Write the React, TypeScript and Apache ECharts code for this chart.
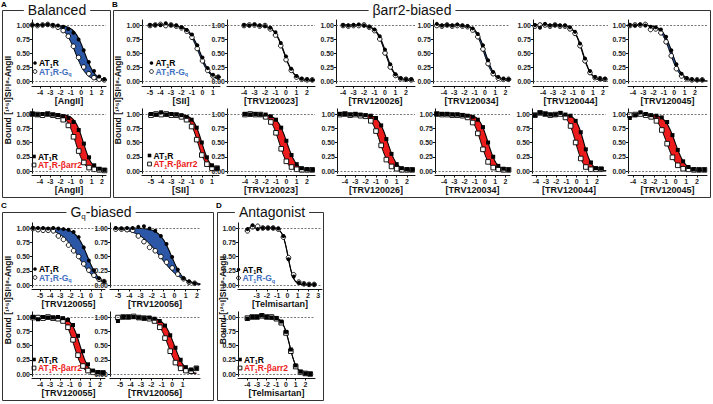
import React, { useEffect, useRef } from "react";
import * as echarts from "echarts";

// ---------- DATA (log concentration, fraction bound) ----------
const Y_TICKS = [0, 0.25, 0.5, 0.75, 1];
const TICKS_M4_2 = [-4, -3, -2, -1, 0, 1, 2];
const TICKS_M5_1 = [-5, -4, -3, -2, -1, 0, 1];
const TICKS_M5_2 = [-5, -4, -3, -2, -1, 0, 1, 2];
const TICKS_M3_3 = [-3, -2, -1, 0, 1, 2, 3];

// A: AngII
const A1_x = [-4.75, -4.25, -3.75, -3.25, -2.75, -2.25, -1.75, -1.25, -0.75, -0.25, 0.25, 0.75, 1.25, 1.75, 2.25];
const A1_at1r = [1.0, 1.0, 1.0, 1.01, 1.0, 0.99, 0.97, 0.93, 0.86, 0.74, 0.55, 0.34, 0.18, 0.08, 0.03];
const A1_gq = [1.0, 0.99, 1.0, 1.01, 0.99, 0.96, 0.9, 0.8, 0.62, 0.42, 0.25, 0.13, 0.06, 0.03, 0.02];
const A1_fit_at1r = [0.35, 0.85];
const A1_fit_gq = [-0.55, 0.8];

const A2_x = [-4.75, -4.25, -3.75, -3.25, -2.75, -2.25, -1.75, -1.25, -0.75, -0.25, 0.25, 0.75, 1.25, 1.75, 2.25];
const A2_at1r = [1.0, 0.99, 1.0, 1.0, 0.99, 0.98, 0.96, 0.93, 0.86, 0.72, 0.48, 0.24, 0.1, 0.04, 0.02];
const A2_barr = [1.0, 0.99, 0.98, 1.0, 0.98, 0.96, 0.9, 0.8, 0.6, 0.35, 0.15, 0.06, 0.03, 0.02, 0.01];
const A2_fit_at1r = [0.2, 1.0];
const A2_fit_barr = [-0.55, 1.0];

// B: SII
const B1a_x = [-5, -4.5, -4, -3.5, -3, -2.5, -2, -1.5, -1, -0.5, 0, 0.5, 1, 1.5];
const B1a_at1r = [1.0, 1.0, 1.0, 1.03, 1.0, 0.99, 0.96, 0.91, 0.83, 0.64, 0.42, 0.23, 0.11, 0.07];
const B1a_gq = [0.99, 1.0, 1.01, 0.99, 1.0, 0.98, 0.95, 0.89, 0.78, 0.58, 0.36, 0.19, 0.09, 0.07];
const B1a_fit_at1r = [-0.2, 0.8];
const B1a_fit_gq = [-0.35, 0.8];

const B1b_x = [-5, -4.5, -4, -3.5, -3, -2.5, -2, -1.5, -1, -0.5, 0, 0.5, 1, 1.5];
const B1b_at1r = [1.0, 0.99, 1.03, 0.99, 1.0, 0.99, 0.98, 0.95, 0.9, 0.76, 0.5, 0.24, 0.1, 0.05];
const B1b_barr = [0.98, 1.0, 0.99, 1.0, 0.98, 0.98, 0.95, 0.9, 0.78, 0.55, 0.28, 0.12, 0.05, 0.05];
const B1b_fit_at1r = [0.0, 1.0];
const B1b_fit_barr = [-0.4, 1.0];

// B: TRV120023
const B2a_x = [-4, -3.5, -3, -2.5, -2, -1.5, -1, -0.5, 0, 0.5, 1, 1.5, 2, 2.5];
const B2a_at1r = [1.0, 0.99, 1.01, 0.99, 0.98, 0.95, 0.87, 0.68, 0.44, 0.22, 0.09, 0.04, 0.03, 0.02];
const B2a_gq = [0.99, 1.0, 1.0, 0.98, 0.99, 0.93, 0.82, 0.63, 0.38, 0.19, 0.07, 0.03, 0.02, 0.02];
const B2a_fit_at1r = [-0.15, 0.9];
const B2a_fit_gq = [-0.2, 0.9];

const B2b_x = [-4, -3.5, -3, -2.5, -2, -1.5, -1, -0.5, 0, 0.5, 1, 1.5, 2, 2.5];
const B2b_at1r = [1.0, 0.99, 1.0, 0.99, 0.99, 0.96, 0.9, 0.76, 0.53, 0.28, 0.12, 0.05, 0.03, 0.02];
const B2b_barr = [0.99, 1.0, 0.99, 0.99, 0.95, 0.86, 0.67, 0.39, 0.17, 0.07, 0.03, 0.02, 0.02, 0.02];
const B2b_fit_at1r = [0.05, 0.9];
const B2b_fit_barr = [-0.7, 1.0];

// B: TRV120026
const B3a_x = [-4, -3.5, -3, -2.5, -2, -1.5, -1, -0.5, 0, 0.5, 1, 1.5, 2, 2.5];
const B3a_at1r = [1.0, 0.99, 1.0, 1.01, 0.99, 0.97, 0.92, 0.8, 0.56, 0.3, 0.12, 0.05, 0.03, 0.03];
const B3a_gq = [0.99, 0.98, 0.99, 0.99, 1.0, 0.96, 0.9, 0.75, 0.5, 0.25, 0.1, 0.04, 0.03, 0.02];
const B3a_fit_at1r = [0.1, 0.95];
const B3a_fit_gq = [0.02, 0.95];

const B3b_x = [-4.5, -4, -3.5, -3, -2.5, -2, -1.5, -1, -0.5, 0, 0.5, 1, 1.5, 2, 2.5];
const B3b_at1r = [1.0, 1.0, 0.99, 1.0, 0.99, 0.98, 0.97, 0.93, 0.8, 0.56, 0.3, 0.12, 0.05, 0.03, 0.02];
const B3b_barr = [0.99, 1.0, 0.98, 0.99, 0.97, 0.96, 0.88, 0.7, 0.45, 0.2, 0.08, 0.04, 0.02, 0.02, 0.02];
const B3b_fit_at1r = [0.13, 0.95];
const B3b_fit_barr = [-0.6, 0.95];

// B: TRV120034
const B4a_x = [-4.7, -4.2, -3.7, -3.2, -2.7, -2.2, -1.7, -1.2, -0.7, -0.2, 0.3, 0.8, 1.3, 1.8, 2.3];
const B4a_at1r = [1.02, 0.99, 1.0, 0.99, 1.01, 0.99, 0.98, 0.94, 0.84, 0.64, 0.37, 0.16, 0.07, 0.04, 0.03];
const B4a_gq = [0.99, 0.98, 1.0, 0.98, 0.99, 0.98, 0.97, 0.91, 0.79, 0.57, 0.31, 0.13, 0.05, 0.03, 0.03];
const B4a_fit_at1r = [0.05, 0.95];
const B4a_fit_gq = [-0.1, 0.95];

const B4b_x = [-4.7, -4.2, -3.7, -3.2, -2.7, -2.2, -1.7, -1.2, -0.7, -0.2, 0.3, 0.8, 1.3, 1.8, 2.3];
const B4b_at1r = [1.0, 1.0, 1.0, 0.99, 0.99, 0.98, 0.97, 0.95, 0.9, 0.77, 0.5, 0.25, 0.09, 0.04, 0.02];
const B4b_barr = [1.0, 0.99, 0.99, 0.98, 0.98, 0.97, 0.94, 0.85, 0.66, 0.38, 0.16, 0.06, 0.03, 0.02, 0.02];
const B4b_fit_at1r = [0.3, 1.0];
const B4b_fit_barr = [-0.4, 1.0];

// B: TRV120044
const B5a_x = [-4.8, -4.3, -3.8, -3.3, -2.8, -2.3, -1.8, -1.3, -0.8, -0.3, 0.2, 0.7, 1.2, 1.7, 2.2];
const B5a_at1r = [1.0, 0.95, 1.02, 0.99, 1.0, 0.99, 0.99, 0.96, 0.88, 0.67, 0.4, 0.18, 0.07, 0.04, 0.04];
const B5a_gq = [0.98, 1.0, 1.0, 0.98, 1.0, 0.98, 0.98, 0.93, 0.85, 0.63, 0.36, 0.15, 0.06, 0.04, 0.03];
const B5a_fit_at1r = [0.0, 1.0];
const B5a_fit_gq = [-0.05, 1.0];

const B5b_x = [-4.1, -3.6, -3.1, -2.6, -2.1, -1.6, -1.1, -0.6, -0.1, 0.4, 0.9, 1.4, 1.9, 2.4, 2.9];
const B5b_at1r = [0.98, 1.02, 1.0, 0.99, 0.99, 1.02, 0.99, 0.97, 0.88, 0.68, 0.38, 0.15, 0.05, 0.04, 0.04];
const B5b_barr = [0.98, 1.02, 1.0, 0.98, 0.99, 1.0, 0.94, 0.79, 0.5, 0.22, 0.07, 0.03, 0.03, 0.03, 0.04];
const B5b_fit_at1r = [0.7, 1.1];
const B5b_fit_barr = [-0.1, 1.1];

// B: TRV120045
const B6a_x = [-4.3, -3.8, -3.3, -2.8, -2.3, -1.8, -1.3, -0.8, -0.3, 0.2, 0.7, 1.2, 1.7, 2.2, 2.7, 3.2];
const B6a_at1r = [1.0, 0.99, 1.01, 0.99, 0.97, 0.96, 0.92, 0.79, 0.55, 0.3, 0.13, 0.05, 0.03, 0.02, 0.02, 0.02];
const B6a_gq = [0.99, 1.0, 1.0, 1.01, 0.92, 0.93, 0.86, 0.7, 0.45, 0.22, 0.09, 0.04, 0.02, 0.02, 0.02, 0.02];
const B6a_fit_at1r = [-0.2, 0.9];
const B6a_fit_gq = [-0.4, 0.9];

const B6b_x = [-4.3, -3.8, -3.3, -2.8, -2.3, -1.8, -1.3, -0.8, -0.3, 0.2, 0.7, 1.2, 1.7, 2.2, 2.7];
const B6b_at1r = [0.93, 0.98, 1.03, 1.0, 0.98, 0.97, 0.94, 0.86, 0.63, 0.37, 0.17, 0.07, 0.03, 0.02, 0.02];
const B6b_barr = [0.98, 0.99, 1.0, 0.98, 0.95, 0.88, 0.72, 0.48, 0.24, 0.1, 0.04, 0.03, 0.02, 0.02, 0.02];
const B6b_fit_at1r = [-0.05, 0.9];
const B6b_fit_barr = [-0.85, 0.9];

// C: TRV120055 / TRV120056
const C1a_x = [-5.7, -5.2, -4.7, -4.2, -3.7, -3.2, -2.7, -2.2, -1.7, -1.2, -0.7, -0.2, 0.3, 0.8, 1.3];
const C1a_at1r = [1.0, 1.0, 1.0, 0.99, 1.0, 0.99, 0.98, 0.97, 0.93, 0.84, 0.66, 0.43, 0.26, 0.12, 0.06];
const C1a_gq = [0.99, 0.97, 0.96, 0.96, 0.95, 0.86, 0.8, 0.7, 0.6, 0.5, 0.37, 0.26, 0.17, 0.1, 0.06];
const C1a_fit_at1r = [-0.33, 0.75];
const C1a_fit_gq = [-1.25, 0.5];

const C2a_x = [-5.2, -4.7, -4.2, -3.7, -3.2, -2.7, -2.2, -1.7, -1.2, -0.7, -0.2, 0.3, 0.8, 1.3, 1.8, 2.3];
const C2a_at1r = [1.0, 0.99, 1.0, 1.0, 1.02, 1.03, 0.99, 0.95, 0.86, 0.72, 0.49, 0.27, 0.12, 0.06, 0.03, 0.06];
const C2a_gq = [0.98, 0.98, 0.97, 0.96, 0.86, 0.76, 0.66, 0.6, 0.5, 0.4, 0.3, 0.19, 0.11, 0.05, 0.03, 0.08];
const C2a_fit_at1r = [-0.24, 0.8];
const C2a_fit_gq = [-1.28, 0.45];

const C1b_x = [-4.7, -4.2, -3.7, -3.2, -2.7, -2.2, -1.7, -1.2, -0.7, -0.2, 0.3, 0.8, 1.3, 1.8, 2.3];
const C1b_at1r = [1.0, 0.96, 1.0, 0.99, 0.99, 1.0, 0.98, 0.95, 0.86, 0.67, 0.4, 0.17, 0.06, 0.03, 0.02];
const C1b_barr = [0.99, 0.99, 0.98, 1.0, 0.98, 0.97, 0.93, 0.82, 0.6, 0.33, 0.14, 0.06, 0.03, 0.02, 0.02];
const C1b_fit_at1r = [0.0, 1.0];
const C1b_fit_barr = [-0.6, 1.0];

const C2b_x = [-5.2, -4.7, -4.2, -3.7, -3.2, -2.7, -2.2, -1.7, -1.2, -0.7, -0.2, 0.3, 0.8, 1.3, 1.8, 2.3];
const C2b_at1r = [0.93, 1.0, 1.0, 1.0, 0.99, 0.98, 0.99, 0.97, 0.93, 0.85, 0.68, 0.46, 0.25, 0.12, 0.08, 0.1];
const C2b_barr = [0.99, 1.0, 1.0, 1.01, 0.99, 0.98, 0.97, 0.93, 0.82, 0.63, 0.4, 0.2, 0.1, 0.06, 0.05, 0.1];
const C2b_fit_at1r = [0.2, 0.85];
const C2b_fit_barr = [-0.4, 0.85];

// D: Telmisartan
const Da_x = [-3.9, -3.4, -2.9, -2.4, -1.9, -1.4, -0.9, -0.4, 0.1, 0.6, 1.1, 1.6, 2.1, 2.6];
const Da_at1r = [0.98, 1.05, 0.98, 1.0, 1.0, 1.0, 0.99, 0.86, 0.45, 0.15, 0.04, 0.02, 0.01, 0.01];
const Da_gq = [0.95, 1.02, 1.03, 1.0, 1.0, 1.0, 0.98, 0.84, 0.48, 0.18, 0.05, 0.02, 0.01, 0.01];
const Da_fit_at1r = [0.05, 1.6];
const Da_fit_gq = [0.05, 1.6];

const Db_x = [-4, -3.5, -3, -2.5, -2, -1.5, -1, -0.5, 0, 0.5, 1, 1.5, 2, 2.5];
const Db_at1r = [0.97, 1.0, 1.0, 1.03, 1.0, 0.99, 0.98, 0.92, 0.74, 0.43, 0.15, 0.04, 0.01, 0.0];
const Db_barr = [0.98, 1.0, 1.0, 1.02, 1.0, 1.0, 0.97, 0.9, 0.72, 0.4, 0.13, 0.03, 0.01, 0.0];
const Db_fit_at1r = [0.38, 1.2];
const Db_fit_barr = [0.38, 1.2];

// ---------- LAYOUT ----------
const FONT = '"Liberation Sans", Arial, Helvetica, sans-serif';
const BLUE = "#2b57a6";
const RED = "#ec1c1c";
const BLUE_TXT = "#3f6fc0";
const YMIN = -0.04;
const YMAX = 1.09;
const ROWS = [
  { y1: 25, y0: 81, ax: 86.5 },
  { y1: 114, y0: 171, ax: 175.5 },
  { y1: 228, y0: 285, ax: 289.5 },
  { y1: 317, y0: 374, ax: 378.5 },
];

type P = {
  row: number; left: number; right: number; xmin: number; xmax: number; ticks: number[];
  name: string; kind: "gq" | "ba"; x: number[]; a: number[]; b: number[]; fa: number[]; fb: number[];
  legend?: [number, number];
};

const PANELS: P[] = [
  { row: 0, left: 32, right: 106, xmin: -4.78, xmax: 2.42, ticks: TICKS_M4_2, name: "[AngII]", kind: "gq", x: A1_x, a: A1_at1r, b: A1_gq, fa: A1_fit_at1r, fb: A1_fit_gq, legend: [35, 63] },
  { row: 1, left: 32, right: 106, xmin: -4.77, xmax: 2.39, ticks: TICKS_M4_2, name: "[AngII]", kind: "ba", x: A2_x, a: A2_at1r, b: A2_barr, fa: A2_fit_at1r, fb: A2_fit_barr, legend: [34, 156.5] },
  { row: 0, left: 142, right: 220, xmin: -5.76, xmax: 1.67, ticks: TICKS_M5_1, name: "[SII]", kind: "gq", x: B1a_x, a: B1a_at1r, b: B1a_gq, fa: B1a_fit_at1r, fb: B1a_fit_gq, legend: [151.5, 63] },
  { row: 1, left: 142, right: 219, xmin: -5.88, xmax: 1.69, ticks: TICKS_M5_1, name: "[SII]", kind: "ba", x: B1b_x, a: B1b_at1r, b: B1b_barr, fa: B1b_fit_at1r, fb: B1b_fit_barr, legend: [149.5, 155.5] },
  { row: 0, left: 227, right: 315, xmin: -5.62, xmax: 2.76, ticks: TICKS_M4_2, name: "[TRV120023]", kind: "gq", x: B2a_x, a: B2a_at1r, b: B2a_gq, fa: B2a_fit_at1r, fb: B2a_fit_gq },
  { row: 1, left: 227, right: 315, xmin: -5.74, xmax: 2.77, ticks: TICKS_M4_2, name: "[TRV120023]", kind: "ba", x: B2b_x, a: B2b_at1r, b: B2b_barr, fa: B2b_fit_at1r, fb: B2b_fit_barr },
  { row: 0, left: 336, right: 415, xmin: -4.67, xmax: 2.86, ticks: TICKS_M4_2, name: "[TRV120026]", kind: "gq", x: B3a_x, a: B3a_at1r, b: B3a_gq, fa: B3a_fit_at1r, fb: B3a_fit_gq },
  { row: 1, left: 337, right: 415, xmin: -4.77, xmax: 2.77, ticks: TICKS_M4_2, name: "[TRV120026]", kind: "ba", x: B3b_x, a: B3b_at1r, b: B3b_barr, fa: B3b_fit_at1r, fb: B3b_fit_barr },
  { row: 0, left: 433, right: 510, xmin: -5.07, xmax: 2.44, ticks: TICKS_M4_2, name: "[TRV120034]", kind: "gq", x: B4a_x, a: B4a_at1r, b: B4a_gq, fa: B4a_fit_at1r, fb: B4a_fit_gq },
  { row: 1, left: 435, right: 510, xmin: -4.88, xmax: 2.44, ticks: TICKS_M4_2, name: "[TRV120034]", kind: "ba", x: B4b_x, a: B4b_at1r, b: B4b_barr, fa: B4b_fit_at1r, fb: B4b_fit_barr },
  { row: 0, left: 533, right: 608, xmin: -5.0, xmax: 2.5, ticks: TICKS_M4_2, name: "[TRV120044]", kind: "gq", x: B5a_x, a: B5a_at1r, b: B5a_gq, fa: B5a_fit_at1r, fb: B5a_fit_gq },
  { row: 1, left: 532, right: 606, xmin: -4.39, xmax: 2.88, ticks: TICKS_M4_2, name: "[TRV120044]", kind: "ba", x: B5b_x, a: B5b_at1r, b: B5b_barr, fa: B5b_fit_at1r, fb: B5b_fit_barr },
  { row: 0, left: 628, right: 707, xmin: -4.48, xmax: 3.16, ticks: TICKS_M4_2, name: "[TRV120045]", kind: "gq", x: B6a_x, a: B6a_at1r, b: B6a_gq, fa: B6a_fit_at1r, fb: B6a_fit_gq },
  { row: 1, left: 628, right: 707, xmin: -4.47, xmax: 2.94, ticks: TICKS_M4_2, name: "[TRV120045]", kind: "ba", x: B6b_x, a: B6b_at1r, b: B6b_barr, fa: B6b_fit_at1r, fb: B6b_fit_barr },
  { row: 2, left: 32, right: 105, xmin: -5.79, xmax: 1.39, ticks: TICKS_M5_1, name: "[TRV120055]", kind: "gq", x: C1a_x, a: C1a_at1r, b: C1a_gq, fa: C1a_fit_at1r, fb: C1a_fit_gq, legend: [35, 269] },
  { row: 2, left: 110, right: 200, xmin: -5.71, xmax: 2.27, ticks: TICKS_M5_2, name: "[TRV120056]", kind: "gq", x: C2a_x, a: C2a_at1r, b: C2a_gq, fa: C2a_fit_at1r, fb: C2a_fit_gq },
  { row: 3, left: 32, right: 105, xmin: -4.8, xmax: 2.5, ticks: TICKS_M4_2, name: "[TRV120055]", kind: "ba", x: C1b_x, a: C1b_at1r, b: C1b_barr, fa: C1b_fit_at1r, fb: C1b_fit_barr, legend: [34, 359.5] },
  { row: 3, left: 110, right: 200, xmin: -5.96, xmax: 2.65, ticks: TICKS_M5_1, name: "[TRV120056]", kind: "ba", x: C2b_x, a: C2b_at1r, b: C2b_barr, fa: C2b_fit_at1r, fb: C2b_fit_barr },
  { row: 2, left: 238, right: 322, xmin: -4.82, xmax: 3.36, ticks: TICKS_M3_3, name: "[Telmisartan]", kind: "gq", x: Da_x, a: Da_at1r, b: Da_gq, fa: Da_fit_at1r, fb: Da_fit_gq, legend: [238.5, 269.5] },
  { row: 3, left: 238, right: 315, xmin: -4.97, xmax: 3.0, ticks: TICKS_M4_2, name: "[Telmisartan]", kind: "ba", x: Db_x, a: Db_at1r, b: Db_barr, fa: Db_fit_at1r, fb: Db_fit_barr, legend: [240, 359.5] },
];

// logistic fit curve from fit parameters (logIC50, Hill slope)
function fitCurve(xs: number[], fit: number[]): number[][] {
  const lo = xs[0], hi = xs[xs.length - 1];
  const out: number[][] = [];
  const n = 90;
  for (let i = 0; i <= n; i++) {
    const x = lo + ((hi - lo) * i) / n;
    out.push([x, 1 / (1 + Math.pow(10, fit[1] * (x - fit[0])))]);
  }
  return out;
}

function buildOption() {
  const grid: any[] = [], xAxis: any[] = [], yAxis: any[] = [], series: any[] = [];
  PANELS.forEach((p, i) => {
    const r = ROWS[p.row];
    const unit = r.y0 - r.y1;
    const top = r.y1 - (YMAX - 1) * unit;
    const height = (YMAX - YMIN) * unit;
    grid.push({ left: p.left, top, width: p.right - p.left, height });
    xAxis.push({
      gridIndex: i, type: "value", position: "bottom", min: p.xmin, max: p.xmax, offset: r.ax - (top + height),
      splitLine: { show: false },
      axisLine: { show: true, onZero: false, lineStyle: { color: "#111", width: 1 } },
      axisTick: { show: true, customValues: p.ticks, length: 2, lineStyle: { color: "#111" } },
      axisLabel: { show: true, customValues: p.ticks, fontSize: 7, fontWeight: "bold", fontFamily: FONT, color: "#222", margin: 2 },
      name: p.name, nameLocation: "middle", nameGap: 8.5,
      nameTextStyle: { fontSize: 9, fontWeight: "bold", fontFamily: FONT, color: "#111" },
    });
    yAxis.push({
      gridIndex: i, type: "value", position: "left", min: YMIN, max: YMAX,
      splitLine: { show: false },
      axisLine: { show: true, onZero: false, lineStyle: { color: "#111", width: 1 } },
      axisTick: { show: true, customValues: Y_TICKS, length: 2, lineStyle: { color: "#111" } },
      axisLabel: { show: true, customValues: Y_TICKS, fontSize: 7, fontWeight: "bold", fontFamily: FONT, color: "#222", margin: 2, formatter: (v: number) => v.toFixed(2) },
    });
    const ca = fitCurve(p.x, p.fa);
    const cb = fitCurve(p.x, p.fb);
    const fill = p.kind === "gq" ? BLUE : RED;
    series.push({
      type: "custom", xAxisIndex: i, yAxisIndex: i, data: [[p.x[0], 0.5]], silent: true, z: 1,
      renderItem: (_params: any, api: any) => {
        const up = ca.map((pt) => api.coord(pt));
        const lo = cb.map((pt) => api.coord(pt)).reverse();
        return { type: "polygon", shape: { points: up.concat(lo) }, style: { fill, stroke: null } };
      },
    });
    series.push({
      type: "line", xAxisIndex: i, yAxisIndex: i, data: ca, showSymbol: false, symbol: "none", silent: true, z: 3,
      lineStyle: { color: "#000", width: 1.1 },
      markLine: {
        silent: true, symbol: "none", label: { show: false },
        lineStyle: { type: [2, 1.5], color: "#555", width: 0.8 },
        data: [{ yAxis: 1 }, { yAxis: 0 }],
      },
    });
    series.push({ type: "line", xAxisIndex: i, yAxisIndex: i, data: cb, showSymbol: false, symbol: "none", silent: true, z: 3, lineStyle: { color: "#000", width: 1.0 } });
    const sym = p.kind === "gq" ? "circle" : "rect";
    series.push({
      type: "scatter", xAxisIndex: i, yAxisIndex: i, data: p.x.map((x, k) => [x, p.b[k]]), symbol: sym, symbolSize: 4.6, z: 4, silent: true,
      itemStyle: { color: "#fff", borderColor: "#000", borderWidth: 0.9, opacity: 1 },
    });
    series.push({
      type: "scatter", xAxisIndex: i, yAxisIndex: i, data: p.x.map((x, k) => [x, p.a[k]]), symbol: sym, symbolSize: 4, z: 5, silent: true,
      itemStyle: { color: "#000", opacity: 1 },
    });
  });

  const g: any[] = [];
  const box = (x1: number, y1: number, x2: number, y2: number) =>
    g.push({ type: "rect", shape: { x: x1, y: y1, width: x2 - x1, height: y2 - y1 }, style: { fill: "none", stroke: "#333", lineWidth: 1 }, silent: true });
  box(2.5, 10.5, 110.5, 197.5);
  box(113.5, 10.5, 710.5, 197.5);
  box(2.5, 212.5, 213.5, 400.5);
  box(217.5, 212.5, 323.5, 400.5);

  const title = (x: number, y: number, text: string) =>
    g.push({
      type: "text", x, y, silent: true, z: 10,
      style: {
        text, align: "center", verticalAlign: "middle", backgroundColor: "#fff", padding: [0, 4],
        rich: {
          t: { fontSize: 14, fontFamily: FONT, fill: "#111" },
          s: { fontSize: 8, fontFamily: FONT, fill: "#111", padding: [9, 0, 0, 0] },
        },
      },
    });
  title(57, 9.5, "{t|Balanced}");
  title(412, 9.5, "{t|βarr2-biased}");
  title(101, 211.5, "{t|G}{s|q}{t|-biased}");
  title(272, 211.5, "{t|Antagonist}");

  const letter = (x: number, y: number, t: string) =>
    g.push({ type: "text", x, y, silent: true, style: { text: t, fontSize: 8, fontWeight: "bold", fontFamily: FONT, fill: "#000", align: "left", verticalAlign: "middle" } });
  letter(1, 4, "A");
  letter(112, 4, "B");
  letter(1, 205, "C");
  letter(216, 205, "D");

  const ylab = (x: number, y: number) =>
    g.push({
      type: "text", x, y, rotation: Math.PI / 2, silent: true,
      style: { text: "Bound [¹²⁵I]SI¹I⁸-AngII", fontSize: 8.5, fontWeight: "bold", fontFamily: FONT, fill: "#111", align: "center", verticalAlign: "middle" },
    });
  ylab(8, 100);
  ylab(118, 100);
  ylab(8, 300);
  ylab(223, 300);

  PANELS.forEach((p) => {
    if (!p.legend) return;
    const [lx, ly] = p.legend;
    const dy = 8.5;
    if (p.kind === "gq") {
      g.push({ type: "circle", shape: { cx: lx, cy: ly, r: 1.8 }, style: { fill: "#000" }, silent: true });
      g.push({ type: "circle", shape: { cx: lx, cy: ly + dy, r: 1.9 }, style: { fill: "#fff", stroke: "#000", lineWidth: 0.9 }, silent: true });
    } else {
      g.push({ type: "rect", shape: { x: lx - 1.8, y: ly - 1.8, width: 3.6, height: 3.6 }, style: { fill: "#000" }, silent: true });
      g.push({ type: "rect", shape: { x: lx - 1.9, y: ly + dy - 1.9, width: 3.8, height: 3.8 }, style: { fill: "#fff", stroke: "#000", lineWidth: 0.9 }, silent: true });
    }
    const c2 = p.kind === "gq" ? BLUE_TXT : RED;
    const rich = {
      k: { fontSize: 8.5, fontWeight: "bold", fontFamily: FONT, fill: "#000" },
      ks: { fontSize: 5.5, fontWeight: "bold", fontFamily: FONT, fill: "#000", padding: [5, 0, 0, 0] },
      c: { fontSize: 8.5, fontWeight: "bold", fontFamily: FONT, fill: c2 },
      cs: { fontSize: 5.5, fontWeight: "bold", fontFamily: FONT, fill: c2, padding: [5, 0, 0, 0] },
    };
    g.push({ type: "text", x: lx + 4, y: ly, silent: true, style: { text: "{k|AT}{ks|1}{k|R}", rich, align: "left", verticalAlign: "middle" } });
    g.push({
      type: "text", x: lx + 4, y: ly + dy, silent: true,
      style: { text: p.kind === "gq" ? "{c|AT}{cs|1}{c|R-G}{cs|q}" : "{c|AT}{cs|1}{c|R-βarr2}", rich, align: "left", verticalAlign: "middle" },
    });
  });

  return { animation: false, backgroundColor: "#fff", grid, xAxis, yAxis, series, graphic: { elements: g } };
}

export default function App() {
  const ref = useRef<HTMLDivElement>(null);
  useEffect(() => {
    if (!ref.current) return;
    const chart = echarts.init(ref.current, undefined, { renderer: "svg" });
    chart.setOption(buildOption() as any);
    return () => chart.dispose();
  }, []);
  return <div ref={ref} style={{ position: "fixed", left: 0, top: 0, width: 713, height: 404, background: "#fff" }} />;
}
